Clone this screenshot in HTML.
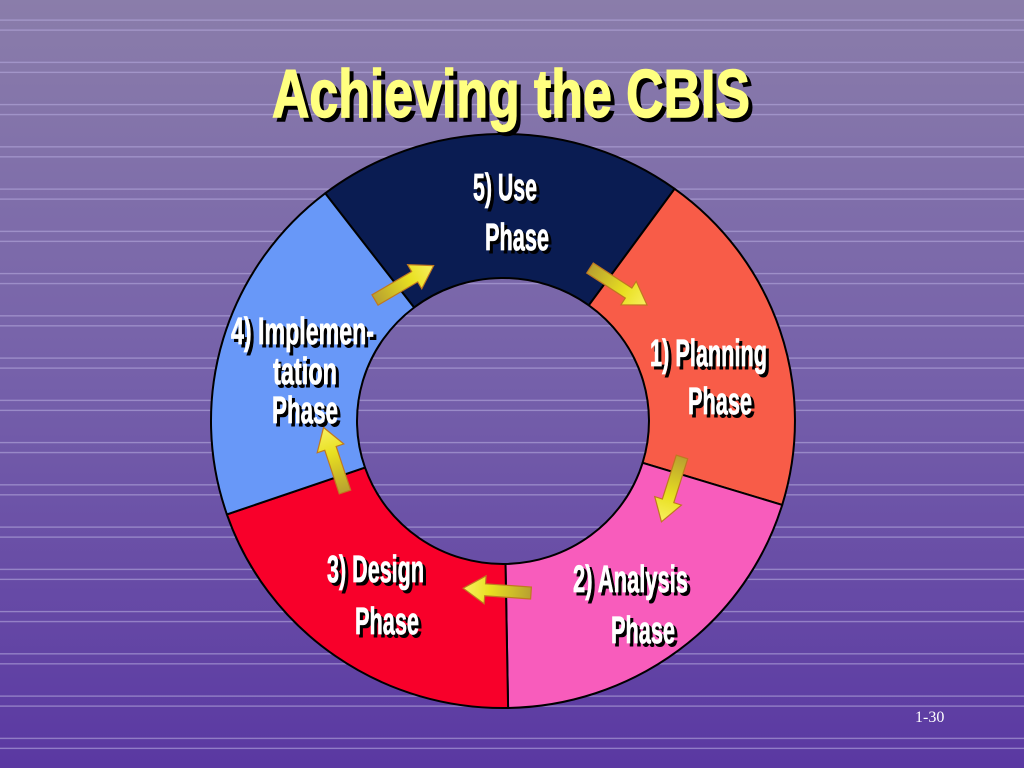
<!DOCTYPE html>
<html><head><meta charset="utf-8"><style>
html,body{margin:0;padding:0;width:1024px;height:768px;overflow:hidden}
svg{display:block}
</style></head><body>
<svg width="1024" height="768" viewBox="0 0 1024 768" xmlns="http://www.w3.org/2000/svg">
<defs>
<linearGradient id="bg" x1="0" y1="0" x2="0" y2="1">
<stop offset="0" stop-color="#8a7daa"/><stop offset="0.5" stop-color="#7560aa"/><stop offset="1" stop-color="#5a38a2"/>
</linearGradient>
<pattern id="lines" width="1024" height="42.25" patternUnits="userSpaceOnUse" y="0">
<rect x="0" y="19.5" width="1024" height="1.2" fill="#b4a8dc" opacity="0.7"/>
<rect x="0" y="29.5" width="1024" height="1.2" fill="#b4a8dc" opacity="0.7"/>
</pattern>
<linearGradient id="ag" x1="0" y1="0" x2="1" y2="0">
<stop offset="0" stop-color="#b8a030"/><stop offset="0.6" stop-color="#e8e020"/><stop offset="1" stop-color="#f8f060"/>
</linearGradient>
<g id="arr"><polygon points="0,-6 46,-6 46,-14 68,0 46,14 46,6 0,6" fill="url(#ag)" stroke="#c07820" stroke-width="1.2"/></g>
</defs>
<rect width="1024" height="768" fill="url(#bg)"/>
<rect width="1024" height="768" fill="url(#lines)"/>

<g stroke="#000" stroke-width="2" stroke-linejoin="round">
<path d="M325.2,193.3 A292,287 0 0 1 674.6,188.8 L588.8,305.3 A146,143 0 0 0 414.1,307.5 Z" fill="#0a1c52"/>
<path d="M674.6,188.8 A292,287 0 0 1 782.2,504.9 L642.6,462.8 A146,143 0 0 0 588.8,305.3 Z" fill="#f85c48"/>
<path d="M782.2,504.9 A292,287 0 0 1 508.1,708.0 L505.5,564.0 A146,143 0 0 0 642.6,462.8 Z" fill="#f85cbc"/>
<path d="M508.1,708.0 A292,287 0 0 1 226.9,514.4 L365.0,467.6 A146,143 0 0 0 505.5,564.0 Z" fill="#f8002a"/>
<path d="M226.9,514.4 A292,287 0 0 1 325.2,193.3 L414.1,307.5 A146,143 0 0 0 365.0,467.6 Z" fill="#6898f8"/>
</g>

<use href="#arr" transform="translate(375,300) rotate(-30.4)"/>
<use href="#arr" transform="translate(590,268) rotate(33)"/>
<use href="#arr" transform="translate(682,457) rotate(107.6)"/>
<use href="#arr" transform="translate(531,593) rotate(184)"/>
<use href="#arr" transform="translate(345,492) rotate(251.6)"/>

<g font-family="Liberation Sans, sans-serif" font-weight="bold">
<text x="276" y="121" font-size="68" textLength="478" lengthAdjust="spacingAndGlyphs" fill="#000" stroke="#000" stroke-width="1.5">Achieving the CBIS</text>
<text x="272" y="117" font-size="68" textLength="478" lengthAdjust="spacingAndGlyphs" fill="#ffff80" stroke="#ffff80" stroke-width="1.5">Achieving the CBIS</text>
</g>

<g font-family="Liberation Sans, sans-serif" font-weight="bold" font-size="38">
<g fill="#000" stroke="#000" stroke-width="1" transform="translate(3,3)">
<text x="473" y="200" textLength="64" lengthAdjust="spacingAndGlyphs">5) Use</text>
<text x="485" y="250" textLength="64" lengthAdjust="spacingAndGlyphs">Phase</text>
<text x="650" y="366" textLength="117" lengthAdjust="spacingAndGlyphs">1) Planning</text>
<text x="688" y="414" textLength="64" lengthAdjust="spacingAndGlyphs">Phase</text>
<text x="231" y="344" textLength="143" lengthAdjust="spacingAndGlyphs">4) Implemen-</text>
<text x="273" y="384" textLength="64" lengthAdjust="spacingAndGlyphs">tation</text>
<text x="272" y="423" textLength="66" lengthAdjust="spacingAndGlyphs">Phase</text>
<text x="327" y="582" textLength="97" lengthAdjust="spacingAndGlyphs">3) Design</text>
<text x="355" y="634" textLength="64" lengthAdjust="spacingAndGlyphs">Phase</text>
<text x="573" y="592" textLength="115" lengthAdjust="spacingAndGlyphs">2) Analysis</text>
<text x="611" y="643" textLength="64" lengthAdjust="spacingAndGlyphs">Phase</text>
</g>
<g fill="#fff" stroke="#fff" stroke-width="0.8">
<text x="473" y="200" textLength="64" lengthAdjust="spacingAndGlyphs">5) Use</text>
<text x="485" y="250" textLength="64" lengthAdjust="spacingAndGlyphs">Phase</text>
<text x="650" y="366" textLength="117" lengthAdjust="spacingAndGlyphs">1) Planning</text>
<text x="688" y="414" textLength="64" lengthAdjust="spacingAndGlyphs">Phase</text>
<text x="231" y="344" textLength="143" lengthAdjust="spacingAndGlyphs">4) Implemen-</text>
<text x="273" y="384" textLength="64" lengthAdjust="spacingAndGlyphs">tation</text>
<text x="272" y="423" textLength="66" lengthAdjust="spacingAndGlyphs">Phase</text>
<text x="327" y="582" textLength="97" lengthAdjust="spacingAndGlyphs">3) Design</text>
<text x="355" y="634" textLength="64" lengthAdjust="spacingAndGlyphs">Phase</text>
<text x="573" y="592" textLength="115" lengthAdjust="spacingAndGlyphs">2) Analysis</text>
<text x="611" y="643" textLength="64" lengthAdjust="spacingAndGlyphs">Phase</text>
</g>
</g>
<text x="915" y="722" font-family="Liberation Serif, serif" font-size="16" fill="#fff">1-30</text>
</svg>
</body></html>
